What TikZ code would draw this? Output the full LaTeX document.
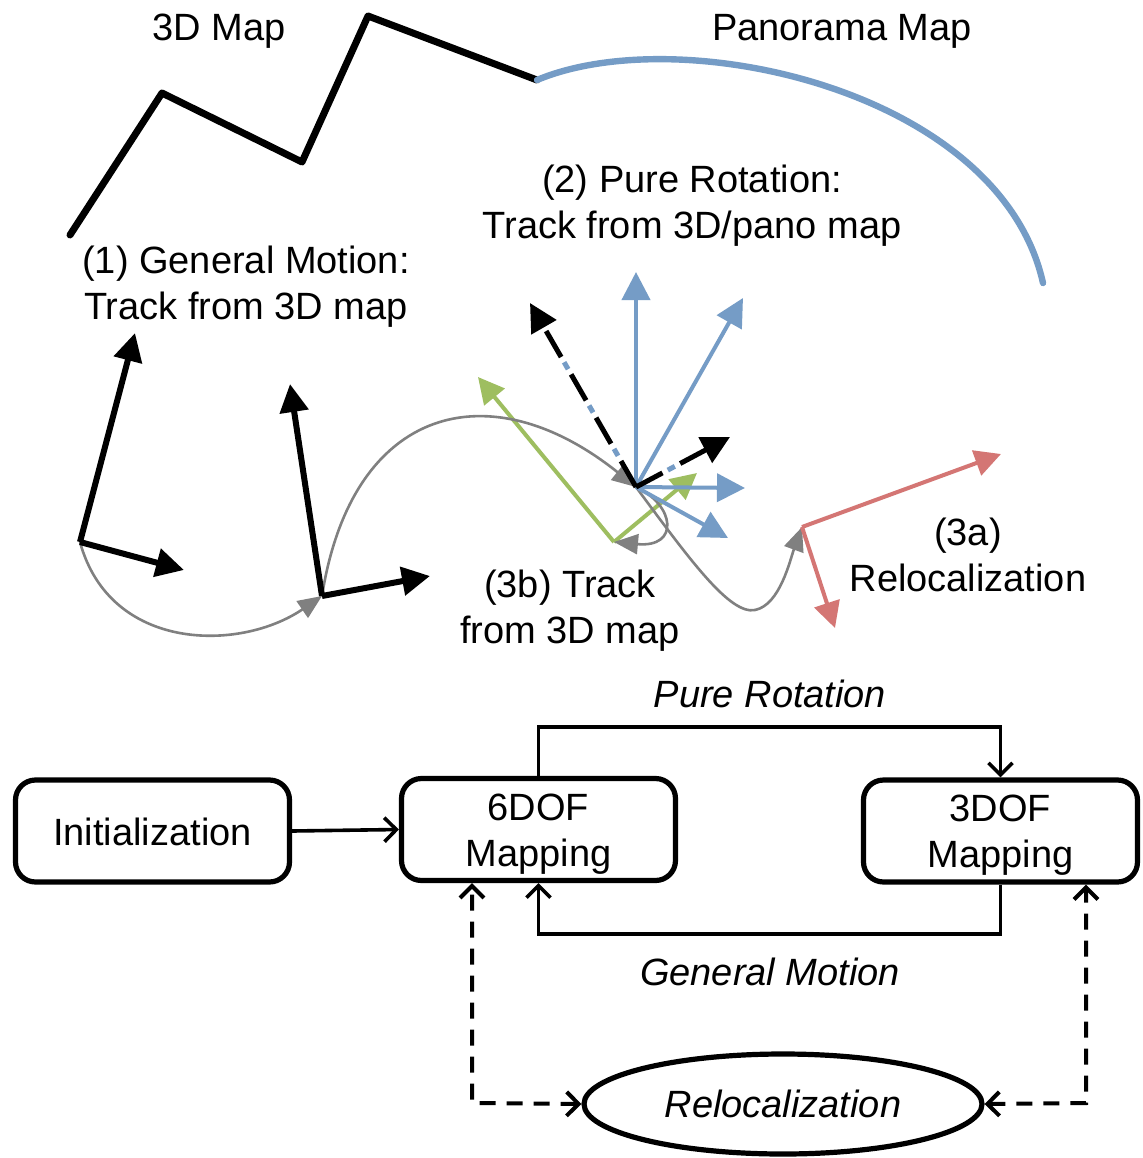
\documentclass[tikz,border=0pt]{standalone}
\usepackage{fontspec}
\setmainfont{Liberation Sans}
\usetikzlibrary{arrows.meta,shapes.geometric,calc}
\definecolor{mapblue}{RGB}{117,156,198}
\definecolor{trackgreen}{RGB}{158,190,96}
\definecolor{relocred}{RGB}{212,118,116}
\definecolor{pathgray}{RGB}{128,128,128}

\begin{document}
\begin{tikzpicture}[x=0.5pt,y=-0.5pt,
  lbl/.style={font=\fontsize{19}{23}\selectfont, align=center, inner sep=0pt},
  ilbl/.style={font=\fontsize{19}{23}\selectfont\itshape, align=center, inner sep=0pt},
  axisblack/.style={line width=3pt, -{Triangle[length=14pt,width=14pt]}},
  axisblue/.style={mapblue, line width=2pt, -{Triangle[length=14pt,width=14pt]}},
  axisgreen/.style={trackgreen, line width=2pt, -{Triangle[length=13pt,width=13pt]}},
  axisred/.style={relocred, line width=2pt, -{Triangle[length=13pt,width=13pt]}},
  traj/.style={pathgray, line width=1.3pt, -{Triangle[length=12pt,width=10pt]}},
  dashaxis/.style={line width=2.5pt, dash pattern=on 15pt off 10pt, -{Triangle[length=14pt,width=14pt]}},
  dashdots/.style={mapblue, line width=2.5pt, dash pattern=on 4pt off 21pt, dash phase=7pt},
  modebox/.style={draw, line width=2.6pt, rounded corners=10pt, minimum width=137pt,
    minimum height=51pt, align=center, inner sep=0pt, font=\fontsize{19}{23}\selectfont},
  flow/.style={line width=1.8pt, -{Straight Barb[length=6pt,width=12pt]}},
  dflow/.style={line width=2pt, dash pattern=on 8pt off 5.5pt,
    {Straight Barb[length=6pt,width=12pt]}-{Straight Barb[length=6pt,width=12pt]}},
]
\fill[white] (0,0) rectangle (1143,1158);
\useasboundingbox (0,0) rectangle (1143,1158);

% ---------- maps ----------
\coordinate (m0) at (70,235);
\coordinate (m1) at (162,93);
\coordinate (m2) at (302,162);
\coordinate (m3) at (368,16);
\coordinate (m4) at (537,80);
\coordinate (pe) at (1043,283);
\draw[line width=3.5pt, line join=round, line cap=round] (m0) -- (m1) -- (m2) -- (m3) -- (m4);
\draw[mapblue, line width=3.2pt, line cap=round] (m4) .. controls (680,20) and (1000,90) .. (pe);

\node[lbl] (t3d) at (219,31) {3D Map};
\node[lbl] (tpano) at (842,31) {Panorama Map};
\node[lbl] (t1) at (246,287) {(1) General Motion:\\Track from 3D map};
\node[lbl] (t2) at (692,206) {(2) Pure Rotation:\\Track from 3D/pano map};
\node[lbl] (t3b) at (570,611) {(3b) Track\\from 3D map};
\node[lbl] (t3a) at (968,555) {(3a)\\Relocalization};

% ---------- camera frames ----------
\coordinate (o1) at (80,542);
\coordinate (x1) at (135,333);
\coordinate (y1) at (184,570);
\coordinate (o2) at (322,596);
\coordinate (x2) at (290,384);
\coordinate (y2) at (430,576);
\coordinate (oc) at (636,487);
\coordinate (b1) at (636,272);
\coordinate (b2) at (743,298);
\coordinate (b3) at (745,488);
\coordinate (b4) at (728,538);
\coordinate (k1) at (530,303);
\coordinate (k2) at (730,437);
\coordinate (og) at (614,542);
\coordinate (g1) at (478,377);
\coordinate (g2) at (697,473);
\coordinate (or) at (802,527);
\coordinate (r1) at (1001,454);
\coordinate (r2) at (835,628);

% tracking (green)
\draw[axisgreen] (og) -- (g1);
\draw[axisgreen] (og) -- (g2);

% camera trajectory
\draw[traj] (o1) .. controls (110,652) and (240,652) .. (o2);
\draw[traj] (o2) .. controls (352,405) and (490,370) .. (oc);
\draw[traj] (oc) .. controls (690,560) and (730,615) .. (755,610)
                 .. controls (780,605) and (790,560) .. (or);
\draw[traj] (oc) .. controls (675,505) and (680,548) .. (og);

% general motion frames
\draw[axisblack] (o1) -- (x1);
\draw[axisblack] (o1) -- (y1);
\draw[axisblack] (o2) -- (x2);
\draw[axisblack] (o2) -- (y2);

% pure rotation fan
\draw[axisblue] (oc) -- (b1);
\draw[axisblue] (oc) -- (b2);
\draw[axisblue] (oc) -- (b3);
\draw[axisblue] (oc) -- (b4);
\draw[dashdots] (oc) -- (k1);
\draw[dashdots] (oc) -- (k2);
\draw[dashaxis] (oc) -- (k1);
\draw[dashaxis] (oc) -- (k2);

% relocalized frame
\draw[axisred] (or) -- (r1);
\draw[axisred] (or) -- (r2);

% ---------- state diagram ----------
\node[modebox] (init) at (152.5,831) {\rule{0pt}{15pt}Initialization};
\node[modebox] (six) at (538.5,829.5) {\rule{0pt}{17.7pt}6DOF\\Mapping};
\node[modebox] (three) at (1000.5,831) {\rule{0pt}{17.7pt}3DOF\\Mapping};
\node[draw, ellipse, line width=2.6pt, minimum width=199pt, minimum height=50pt, inner sep=0pt,
      font=\fontsize{19}{23}\selectfont\itshape] (reloc) at (783,1104) {Relocalization};

\coordinate (prtop) at (770,727);
\coordinate (gmbot) at (770,934);
\coordinate (dl) at (472,1103);
\coordinate (dr) at (1086,1103);

\draw[flow] (init.east) -- (six.west);
\draw[flow] (six.north) |- (prtop) -| (three.north);
\draw[flow] (three.south) |- (gmbot) -| (six.south);
\draw[dflow] (reloc.west) -- (dl) -- (dl |- six.south);
\draw[dflow] (reloc.east) -- (dr) -- (dr |- three.south);

\node[ilbl] (lpr) at (770,694) {Pure Rotation};
\node[ilbl] (lgm) at (770,972) {General Motion};
\end{tikzpicture}
\end{document}
